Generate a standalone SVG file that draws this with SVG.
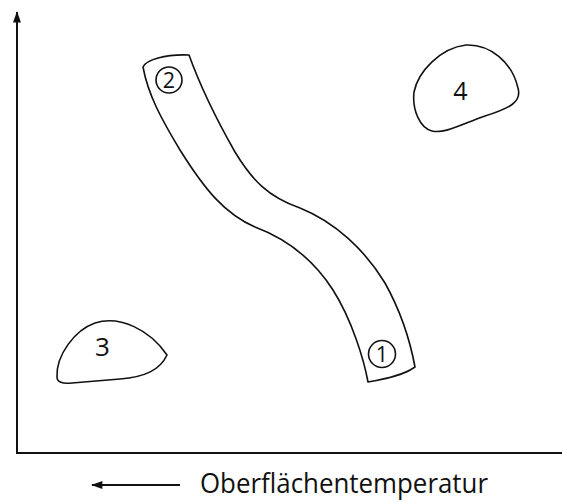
<svg xmlns="http://www.w3.org/2000/svg" width="562" height="502" viewBox="0 0 562 502">
<style>
.ln{fill:none;stroke:#111;stroke-width:1.6;stroke-linejoin:round}
.ax{fill:none;stroke:#111;stroke-width:2}
.t{font-family:"Open Sans","DejaVu Sans",sans-serif;fill:#111}
</style>
<defs>
<marker id="ah2" viewBox="0 0 14 10" refX="13" refY="5" markerWidth="16" markerHeight="8" markerUnits="userSpaceOnUse" orient="auto">
<path d="M0,0 L14,5 L0,10 Z" fill="#111"/>
</marker>
</defs>
<g id="axes">
<path class="ax" d="M17,453 L17,12" marker-end="url(#ah2)"/>
<path class="ax" d="M16,453 L562,453"/>
<path class="ax" d="M180,485 L92,485" stroke-width="1.6" marker-end="url(#ah2)"/>
<text class="t" x="200" y="493" font-size="27" textLength="288" lengthAdjust="spacingAndGlyphs">Oberflächentemperatur</text>
</g>
<g id="band">
<path class="ln" d="M143,67 C146,60 165,54 189,55 C198,80 210,108 235,152 C252,180 268,197 300,208 C335,222 365,250 385,283 C400,310 410,340 415,367 C408,372 398,377 368,382 C364,360 352,320 333,290 C315,262 290,240 255,227 C225,214 205,190 180,150 C162,120 148,95 143,67 Z"/>
</g>
<g id="n2">
<circle class="ln" cx="169" cy="80" r="13"/>
<text class="t" x="169" y="87.8" font-size="21.5" text-anchor="middle">2</text>
</g>
<g id="n1">
<circle class="ln" cx="382" cy="354" r="13.5"/>
<text class="t" x="382" y="361.8" font-size="21.5" text-anchor="middle">1</text>
</g>
<g id="n4">
<path class="ln" d="M414,92 C418,72 440,48 466,45 C490,44 512,62 518,88 C522,102 510,108 485,116 C462,124 445,134 432,131 C420,128 412,110 414,92 Z"/>
<text class="t" x="460.5" y="100" font-size="25" text-anchor="middle">4</text>
</g>
<g id="n3">
<path class="ln" d="M57,377 C56,355 75,330 95,323 C120,315 150,330 167,355 C160,370 145,377 120,379 L72,383 C62,384 57,382 57,377 Z"/>
<text class="t" x="102.5" y="356" font-size="26" text-anchor="middle">3</text>
</g>
</svg>
